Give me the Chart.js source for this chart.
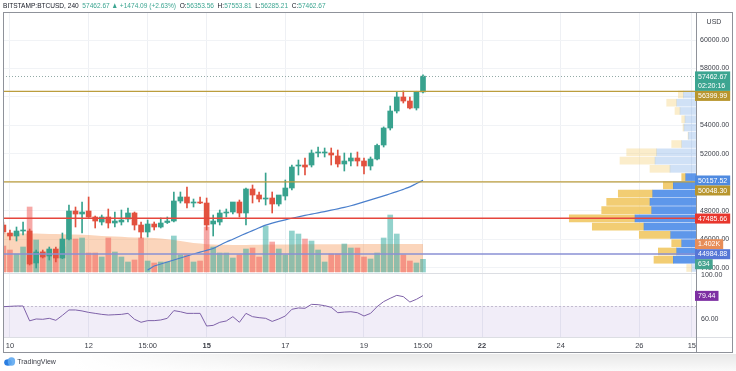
<!DOCTYPE html>
<html lang="en">
<head>
<meta charset="UTF-8">
<title>BITSTAMP:BTCUSD 240</title>
<script src="https://cdn.jsdelivr.net/npm/chart.js@4.4.1/dist/chart.umd.min.js"></script>
<style>
  body { margin: 0; background: #fff; }
  #wrap { position: relative; width: 736px; height: 371px; overflow: hidden; background: #fff; }
  #c { position: absolute; left: 0; top: 0; }
  #hdr { position: absolute; left: 3px; top: 1px; font: 8px 'Liberation Sans', sans-serif;
         color: #131722; white-space: nowrap; line-height: 10px; transform: scaleX(0.82); transform-origin: 0 0; }
  #hdr .g { color: #3ca591; }
  #hdr .t { color: #131722; }
  #logo { position: absolute; left: 4px; top: 357px; font: 8px 'Liberation Sans', sans-serif;
          color: #3b3e47; display: flex; align-items: center; gap: 2px; transform: scaleX(0.88); transform-origin: 0 0; }
  #shade { position: absolute; left: 0; top: 354px; width: 736px; height: 17px;
           background: linear-gradient(to right, #fff 10%, rgba(255,255,255,0) 45%),
                       linear-gradient(to bottom, rgba(0,0,0,0.09), rgba(0,0,0,0.02)); }
</style>
</head>
<body>
<div id="wrap">
  <div id="shade"></div>
  <canvas id="c" width="736" height="371"></canvas>
  <div id="hdr"><span class="t">BITSTAMP:BTCUSD, 240</span>&nbsp; <span class="g">57462.67 &#9650; +1474.09 (+2.63%)</span>&nbsp; O:<span class="g">56353.56</span>&nbsp; H:<span class="g">57553.81</span>&nbsp; L:<span class="g">56285.21</span>&nbsp; C:<span class="g">57462.67</span></div>
  <div id="logo">
    <svg width="13" height="9" viewBox="0 0 13 9"><ellipse cx="4.5" cy="5.5" rx="4.3" ry="3.3" fill="#2a7de1"/><ellipse cx="8.5" cy="4.5" rx="4.2" ry="4.2" fill="#5fa8f0" opacity="0.9"/></svg>
    <span>TradingView</span>
  </div>
</div>

<script>
    // 4h candles, BITSTAMP BTCUSD
    var opens  = [47016,46455,46245,46595,46595,44350,45122,44841,45332,44701,
                  46034,47999,47788,47999,47578,47227,47578,47157,47227,47437,
                  47859,47016,46525,47087,46876,47190,47297,48701,48982,48560,
                  48631,48560,47087,47227,47859,47929,48631,47859,49543,49122,
                  48841,48911,48490,49052,49613,51157,51227,51227,52070,52070,
                  52070,51859,51298,51508,51719,51508,51157,51649,52631,53824,
                  55017,55999,55718,55228,56353.56];
    var highs  = [47227,46666,46876,47227,46736,45262,45262,45472,45472,46455,
                  48420,48280,48631,48982,47648,47718,48139,47929,48069,48210,
                  47929,47227,47367,47227,47508,47578,49333,49333,49684,48841,
                  48982,48911,47718,48069,48139,48420,48771,49613,49824,49333,
                  50666,49333,49052,50175,51227,51578,51719,52280,52491,52420,
                  52420,52280,52070,52070,52140,51719,51789,52700,53900,55368,
                  56351,56421,55999,56400,57553.81];
    var lows   = [46385,45964,45894,46315,44209,43999,44701,44560,44420,44650,
                  45964,46876,46455,47550,46806,47016,46806,46876,47016,47227,
                  46666,46104,46174,46666,46806,47120,47227,48560,48210,48280,
                  48520,46666,46245,47016,47578,47788,47578,47016,48560,48631,
                  48420,47859,48350,48771,49473,50525,50525,51087,51789,51789,
                  51227,51087,50806,51157,51157,50596,50876,51578,52491,53684,
                  54877,55578,55158,55087,56285.21];
    var closes = [46525,46245,46595,46666,44280,45122,44771,45332,44701,46034,
                  47999,47788,47929,47578,47297,47578,47157,47297,47367,47859,
                  47016,46525,47087,46876,47157,47297,48701,48982,48560,48631,
                  48560,47016,47297,47859,47929,48631,47859,49543,49122,48841,
                  48911,48490,49122,49613,51087,51227,51087,52070,52140,52100,
                  51929,51298,51508,51719,51508,51157,51649,52600,53824,55017,
                  55999,55718,55228,56330,57462.67];
    var volumes = [1300,1100,900,1250,3250,1600,1000,1100,900,1250,
                   1650,1650,1700,950,950,750,1700,1000,750,500,
                   600,1700,550,450,500,500,1800,850,850,500,
                   550,2250,1250,950,950,700,850,1150,1200,750,
                   2300,1500,1150,850,2050,1900,1650,1550,1100,500,
                   900,900,1400,1200,1200,750,650,950,1700,2850,
                   1900,850,550,450,634];
    var volumeMA = [1950,1950,1940,1930,1920,1920,1910,1900,1900,1890,
                    1880,1870,1860,1850,1820,1800,1790,1780,1760,1740,
                    1730,1720,1710,1700,1680,1640,1600,1550,1500,1450,
                    1420,1390,1370,1360,1360,1350,1350,1350,1360,1360,
                    1370,1370,1380,1380,1380,1390,1390,1390,1390,1390,
                    1390,1390,1390,1390,1400,1400,1400,1400,1400,1400,
                    1400,1400,1400,1400,1402];
    var priceMA = [null,null,null,null,null,null,null,null,null,null,
                   null,null,null,null,null,null,null,null,null,null,
                   null,null,43850,44140,44280,44420,44560,44700,44840,44980,
                   45110,45240,45370,45600,45820,46020,46230,46430,46620,46820,
                   47010,47150,47270,47380,47490,47590,47690,47780,47870,47960,
                   48060,48150,48250,48370,48500,48640,48780,48920,49060,49210,
                   49360,49520,49690,49930,50157.52];
    var rsiValues = [69.4,69.7,70,70,56.5,58.2,57.9,58.8,57,61.5,
                     66.4,66.4,65.5,64.2,63.3,62.4,61.8,62.1,62.4,63.3,
                     57.9,55.2,56.7,56.7,57.3,58.8,65.8,64.8,63.3,63.3,
                     63.3,51.8,52.4,55.2,56.4,60.3,55.2,63.3,60.3,59.4,
                     58.8,56,58.2,60.9,67,68.2,67.9,71.5,71.2,70.3,
                     68.8,63.9,64.5,64.8,63.9,60.9,63.3,69.4,74,77,
                     79.7,78.5,73.6,76.1,79.44];

    // visible range volume profile, rows from the bottom up
    var profilePrices = [43999,44579,45159,45739,46319,46899,47479,48059,48639,49219,49799,
                         50379,50959,51539,52119,52699,53279,53859,54439,55019,55599,56179];
    var profileBuy  = [43,227,193,143,253,520,610,443,460,433,227,103,260,410,393,143,77,120,110,160,193,127];
    var profileSell = [50,193,184,100,314,517,657,500,433,344,100,40,200,350,300,100,3,10,33,50,100,50];
    var valueAreaLow = 44579, valueAreaHigh = 50379;

    var timeTickPos    = [1, 13, 22, 31, 43, 55, 64, 73, 85, 97, 105];
    var timeTickLabels = ['10','12','15:00','15','17','19','15:00','22','24','26','15'];
    var timeTickBold   = [false,false,false,true,false,false,false,true,false,false,false];
    var priceTicks = [44000,46000,48000,50000,52000,54000,56000,58000,60000];
    var rsiTicks = [100, 60];
    var rsiUpper = 70, rsiLower = 30;

    var levels = [
      { price: 56399.99, color: '#bb9d3d', width: 1.2 },
      { price: 50048.30, color: '#bb9d3d', width: 1.2 },
      { price: 47485.66, color: '#e5463c', width: 1.6 },
      { price: 44984.88, color: '#8a90d4', width: 1.6 }
    ];
    var countdown = '02:20:16';

    var FONT = "'Liberation Sans', Arial, sans-serif";
    var UP = '#38a28e', DOWN = '#e2513f';

    function pts(arr) { return arr.map(function (v, i) { return { x: i, y: v }; }); }
    function isUp(i) { return closes[i] >= opens[i]; }

    var overlay = {
      id: 'overlay',
      beforeDatasetsDraw: function (chart) {
        var ctx = chart.ctx, a = chart.chartArea, r = chart.scales.rsi;
        var y1 = r.getPixelForValue(rsiUpper), y2 = r.getPixelForValue(rsiLower);
        ctx.save();
        ctx.beginPath(); ctx.rect(a.left, a.top, a.width, a.height); ctx.clip();
        ctx.fillStyle = 'rgba(126,87,194,0.11)';
        ctx.fillRect(a.left, y1, a.width, y2 - y1);
        ctx.setLineDash([2, 2]); ctx.strokeStyle = '#c3bccf'; ctx.lineWidth = 1;
        ctx.beginPath(); ctx.moveTo(a.left, Math.round(y1) + 0.5); ctx.lineTo(a.right, Math.round(y1) + 0.5); ctx.stroke();
        ctx.restore();
      },
      afterDatasetsDraw: function (chart) {
        var ctx = chart.ctx, a = chart.chartArea, y = chart.scales.y;
        ctx.save();
        // last price dotted line
        var yl = Math.round(y.getPixelForValue(closes[closes.length - 1])) + 0.5;
        ctx.setLineDash([1, 2]); ctx.strokeStyle = '#93aaa6'; ctx.lineWidth = 1;
        ctx.beginPath(); ctx.moveTo(a.left, yl); ctx.lineTo(a.right, yl); ctx.stroke();
        ctx.setLineDash([]);
        levels.forEach(function (l) {
          var py = y.getPixelForValue(l.price);
          ctx.strokeStyle = l.color; ctx.lineWidth = l.width;
          ctx.beginPath(); ctx.moveTo(a.left, py); ctx.lineTo(a.right, py); ctx.stroke();
        });
        ctx.restore();
      },
      afterDraw: function (chart) {
        var ctx = chart.ctx, a = chart.chartArea, s = chart.scales;
        ctx.save();
        // pane separators and frame
        ctx.strokeStyle = '#dcdee3'; ctx.lineWidth = 1;
        var sep = Math.round(s.vol.getPixelForValue(0)) + 1.5;
        ctx.beginPath(); ctx.moveTo(a.left, sep); ctx.lineTo(a.right, sep); ctx.stroke();
        ctx.beginPath(); ctx.moveTo(a.left, a.bottom + 0.5); ctx.lineTo(733, a.bottom + 0.5); ctx.stroke();
        ctx.strokeStyle = '#8f929a';
        ctx.strokeRect(3.5, 12.5, 729, 340);
        ctx.beginPath(); ctx.moveTo(a.right + 0.5, 13); ctx.lineTo(a.right + 0.5, 352); ctx.stroke();

        ctx.font = '7px ' + FONT; ctx.fillStyle = '#3b3e47';
        ctx.textBaseline = 'middle'; ctx.textAlign = 'center';
        ctx.fillText('USD', a.right + 18, 22);
        ctx.textAlign = 'left';
        rsiTicks.forEach(function (t) {
          ctx.fillText(t.toFixed(2), a.right + 5, s.rsi.getPixelForValue(t) + 2);
        });

        // price tags on the axis
        var last = closes.length - 1;
        var tags = [
          { c: s.y.getPixelForValue(closes[last]), lines: [closes[last].toFixed(2), countdown], color: '#3ca591' },
          { c: s.y.getPixelForValue(levels[0].price), lines: [levels[0].price.toFixed(2)], color: '#b8962e' },
          { c: s.y.getPixelForValue(priceMA[last]), lines: [priceMA[last].toFixed(2)], color: '#4f8ae0' },
          { c: s.y.getPixelForValue(levels[1].price), lines: [levels[1].price.toFixed(2)], color: '#b8962e' },
          { c: s.y.getPixelForValue(levels[2].price), lines: [levels[2].price.toFixed(2)], color: '#e8362d' },
          { c: s.vol.getPixelForValue(volumeMA[last]), lines: [(volumeMA[last] / 1000).toFixed(3) + 'K'], color: '#e78d58' },
          { c: s.y.getPixelForValue(levels[3].price), lines: [levels[3].price.toFixed(2)], color: '#5676d6' },
          { c: s.vol.getPixelForValue(volumes[last]), lines: [String(volumes[last])], color: '#45a38f' },
          { c: s.rsi.getPixelForValue(rsiValues[last]), lines: [rsiValues[last].toFixed(2)], color: '#7d2fa3' }
        ];
        var lh = 9.5, bottom = -1e9;
        tags.forEach(function (t) {
          var h = lh * t.lines.length + 0.5;
          var top = Math.max(t.c - lh / 2, bottom);
          var w = Math.max.apply(null, t.lines.map(function (x) { return ctx.measureText(x).width; })) + 6;
          ctx.fillStyle = t.color;
          ctx.fillRect(a.right - 1, top, w, h);
          ctx.fillStyle = '#fff';
          t.lines.forEach(function (x, k) { ctx.fillText(x, a.right + 2, top + lh / 2 + k * lh + 0.5); });
          bottom = top + h;
        });
        ctx.restore();
      }
    };

    Chart.defaults.font.family = FONT;
    Chart.defaults.font.size = 7;
    Chart.defaults.color = '#3b3e47';

    var ctx = document.getElementById('c').getContext('2d');
    var chart = new Chart(ctx, {
      type: 'bar',
      data: {
        datasets: [
          { type: 'line', label: 'Volume MA', data: pts(volumeMA), yAxisID: 'vol', order: 20,
            borderWidth: 0, pointRadius: 0, fill: 'origin', backgroundColor: 'rgba(245,150,85,0.40)' },
          { label: 'Volume', data: pts(volumes), yAxisID: 'vol', order: 19, grouped: false, barThickness: 5,
            backgroundColor: function (c) { return isUp(c.dataIndex) ? 'rgba(38,166,154,0.5)' : 'rgba(239,83,80,0.5)'; } },
          { label: 'Profile buy', indexAxis: 'y', xAxisID: 'vp', yAxisID: 'y', order: 15, grouped: false, barThickness: 7,
            data: profilePrices.map(function (p, i) { return { y: p, x: [0, profileBuy[i]] }; }),
            backgroundColor: function (c) { var p = profilePrices[c.dataIndex];
              return p >= valueAreaLow && p <= valueAreaHigh ? 'rgba(66,133,230,0.85)' : 'rgba(120,170,230,0.35)'; } },
          { label: 'Profile sell', indexAxis: 'y', xAxisID: 'vp', yAxisID: 'y', order: 15, grouped: false, barThickness: 7,
            data: profilePrices.map(function (p, i) { return { y: p, x: [profileBuy[i], profileBuy[i] + profileSell[i]] }; }),
            backgroundColor: function (c) { var p = profilePrices[c.dataIndex];
              return p >= valueAreaLow && p <= valueAreaHigh ? 'rgba(240,196,90,0.85)' : 'rgba(246,214,140,0.45)'; } },
          { type: 'line', label: 'MA', data: pts(priceMA), yAxisID: 'y', order: 8,
            borderColor: '#4a7fcc', borderWidth: 1.2, pointRadius: 0, tension: 0.2 },
          { type: 'line', label: 'RSI', data: pts(rsiValues), yAxisID: 'rsi', order: 7,
            borderColor: '#7e61a8', borderWidth: 1, pointRadius: 0, tension: 0 },
          { label: 'Wicks', data: lows.map(function (l, i) { return { x: i, y: [l, highs[i]] }; }), yAxisID: 'y',
            order: 6, grouped: false, barThickness: 1,
            backgroundColor: function (c) { return isUp(c.dataIndex) ? UP : DOWN; } },
          { label: 'Bodies', data: opens.map(function (o, i) { return { x: i, y: [o, closes[i]] }; }), yAxisID: 'y',
            order: 5, grouped: false, barThickness: 5, minBarLength: 1,
            backgroundColor: function (c) { return isUp(c.dataIndex) ? UP : DOWN; } }
        ]
      },
      options: {
        responsive: false,
        animation: false,
        events: [],
        devicePixelRatio: 1,
        layout: { padding: { left: 3, top: 13, right: 3, bottom: 19 }, autoPadding: false },
        plugins: { legend: { display: false }, tooltip: { enabled: false } },
        scales: {
          x: {
            type: 'linear', position: 'bottom', offset: false, min: -0.06, max: 105.64,
            afterBuildTicks: function (s) { s.ticks = timeTickPos.map(function (v) { return { value: v }; }); },
            afterFit: function (s) { s.height = 15; },
            grid: { color: '#eef0f4', drawTicks: false, offset: false },
            border: { display: false },
            ticks: { autoSkip: false, maxRotation: 0, padding: 4, color: '#3b3e47',
              callback: function (v, i) { return timeTickLabels[i]; },
              font: function (c) { return { size: 7.5, family: FONT, weight: timeTickBold[c.index] ? 'bold' : 'normal' }; } }
          },
          y: {
            type: 'linear', position: 'right', offset: false, min: 39156.5, max: 61894.9,
            afterBuildTicks: function (s) { s.ticks = priceTicks.map(function (v) { return { value: v }; }); },
            afterFit: function (s) { s.width = 37; },
            grid: { color: '#f1f3f6', drawTicks: false, offset: false },
            border: { display: false },
            ticks: { padding: 4, color: '#3b3e47', callback: function (v) { return v.toFixed(2); } }
          },
          vol: { type: 'linear', axis: 'y', display: false, offset: false, min: -3250, max: 12950 },
          rsi: { type: 'linear', axis: 'y', display: false, offset: false, min: 41.82, max: 336.36 },
          vp:  { type: 'linear', axis: 'x', display: false, offset: false, reverse: true, min: 0, max: 6930 }
        }
      },
      plugins: [overlay]
    });
</script>
</body>
</html>
